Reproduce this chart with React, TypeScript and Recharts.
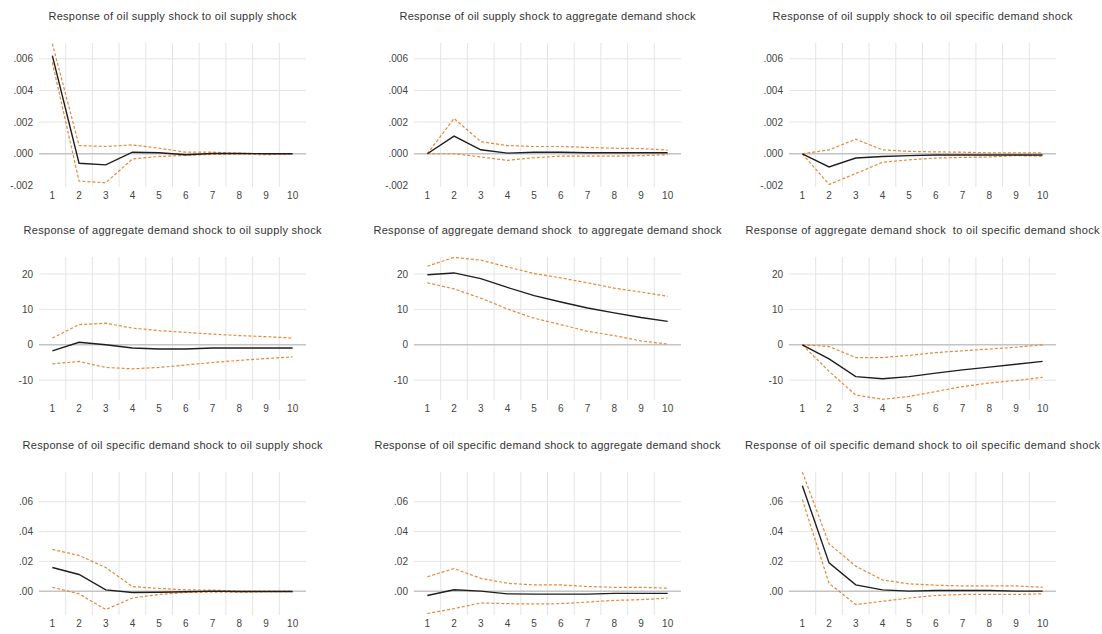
import { LineChart, Line, XAxis, YAxis, ReferenceLine } from 'recharts'

// Impulse-response grid: 3 shocks x 3 responses, horizons 1..10.
const HORIZONS = [1, 2, 3, 4, 5, 6, 7, 8, 9, 10]
const BOUNDARIES = [1.5, 2.5, 3.5, 4.5, 5.5, 6.5, 7.5, 8.5, 9.5]

const TITLES = [
  'Response of oil supply shock to oil supply shock',
  'Response of oil supply shock to aggregate demand shock',
  'Response of oil supply shock to oil specific demand shock',
  'Response of aggregate demand shock to oil supply shock',
  'Response of aggregate demand shock  to aggregate demand shock',
  'Response of aggregate demand shock  to oil specific demand shock',
  'Response of oil specific demand shock to oil supply shock',
  'Response of oil specific demand shock to aggregate demand shock',
  'Response of oil specific demand shock to oil specific demand shock',
]

// row 1: oil supply shock
const irf1 = [0.0062, -0.0006, -0.0007, 0.0001, 0.00006, -0.00006, 0.00002, 0.00002, 0.0, 0.0]
const hi1 = [0.00696, 0.00052, 0.00046, 0.00056, 0.00035, 0.0001, 0.0001, 0.00004, -0.00002, 0.0]
const lo1 = [0.00577, -0.00173, -0.00183, -0.00033, -0.00017, -0.0001, -0.00004, -0.00002, -0.00006, 0.0]

const irf2 = [0.0, 0.00112, 0.00025, 0.00004, 0.0001, 0.0001, 0.00006, 0.00006, 0.00006, 0.00006]
const hi2 = [0.0, 0.00223, 0.00077, 0.00052, 0.00046, 0.00046, 0.0004, 0.00035, 0.00033, 0.00023]
const lo2 = [0.0, 0.0, -0.0002, -0.00042, -0.00025, -0.00015, -0.00015, -0.00015, -0.00012, -0.00006]

const irf3 = [0.0, -0.00083, -0.00027, -0.00017, -0.00012, -0.00008, -0.00008, -0.00008, -0.00008, -0.00008]
const hi3 = [0.0, 0.00025, 0.00092, 0.00025, 0.00015, 0.00012, 0.0001, 0.00006, 0.00006, 0.00006]
const lo3 = [0.0, -0.00194, -0.00125, -0.00054, -0.00038, -0.00027, -0.00023, -0.0002, -0.00012, -0.00015]

// row 2: aggregate demand shock
const irf4 = [-1.7, 0.7, 0.0, -0.9, -1.2, -1.2, -0.9, -0.9, -0.9, -0.9]
const hi4 = [1.9, 5.7, 6.1, 4.7, 4.0, 3.5, 3.0, 2.6, 2.3, 1.9]
const lo4 = [-5.4, -4.7, -6.4, -6.8, -6.4, -5.7, -5.0, -4.4, -3.9, -3.4]

const irf5 = [19.8, 20.3, 18.7, 16.2, 13.9, 12.1, 10.4, 9.0, 7.7, 6.6]
const hi5 = [22.2, 24.7, 23.9, 22.0, 20.1, 18.9, 17.5, 16.0, 14.9, 13.7]
const lo5 = [17.5, 15.8, 13.2, 10.1, 7.5, 5.7, 3.8, 2.6, 1.1, 0.2]

const irf6 = [0.0, -4.0, -9.0, -9.6, -9.0, -8.0, -7.1, -6.3, -5.5, -4.7]
const hi6 = [0.0, -0.5, -3.6, -3.6, -3.0, -2.2, -1.7, -1.2, -0.7, 0.0]
const lo6 = [0.0, -7.5, -14.2, -15.4, -14.6, -13.2, -11.8, -10.8, -10.1, -9.2]

// row 3: oil specific demand shock
const irf7 = [0.0159, 0.0112, 0.0009, -0.0009, -0.0007, -0.0004, 0.0, -0.0002, -0.0002, -0.0002]
const hi7 = [0.028, 0.024, 0.0159, 0.0031, 0.0018, 0.0009, 0.0007, 0.0, 0.0, 0.0]
const lo7 = [0.0026, -0.0018, -0.0123, -0.0046, -0.0022, -0.0009, -0.0007, -0.0007, -0.0004, -0.0004]

const irf8 = [-0.0029, 0.0009, 0.0, -0.0018, -0.002, -0.002, -0.002, -0.0015, -0.0015, -0.0015]
const hi8 = [0.0097, 0.0152, 0.0086, 0.0053, 0.0042, 0.0042, 0.0031, 0.0026, 0.0026, 0.002]
const lo8 = [-0.015, -0.0117, -0.0079, -0.0084, -0.0086, -0.0084, -0.0073, -0.0062, -0.0057, -0.0046]

const irf9 = [0.0708, 0.019, 0.0042, 0.0009, 0.0, 0.0004, 0.0004, 0.0004, 0.0, 0.0]
const hi9 = [0.08, 0.0318, 0.0168, 0.0075, 0.0049, 0.004, 0.0035, 0.0035, 0.0035, 0.0026]
const lo9 = [0.0615, 0.0053, -0.009, -0.0068, -0.0046, -0.0029, -0.0022, -0.0022, -0.0022, -0.0018]

const SERIES = [
  [irf1, hi1, lo1], [irf2, hi2, lo2], [irf3, hi3, lo3],
  [irf4, hi4, lo4], [irf5, hi5, lo5], [irf6, hi6, lo6],
  [irf7, hi7, lo7], [irf8, hi8, lo8], [irf9, hi9, lo9],
]

// per-row y axis setup
const ROWS = [
  { top: 43, h: 144, domain: [-0.0021, 0.007], ticks: [-0.002, 0, 0.002, 0.004, 0.006], grid: [-0.002, 0.002, 0.004, 0.006], dec: 3, gridBottom: false },
  { top: 257, h: 143, domain: [-15.6, 24.8], ticks: [-10, 0, 10, 20], grid: [-10, 10, 20], dec: 0, gridBottom: true },
  { top: 472, h: 143, domain: [-0.016, 0.08], ticks: [0, 0.02, 0.04, 0.06], grid: [0.02, 0.04, 0.06], dec: 2, gridBottom: true },
]
const COL_LEFT = [39, 414, 789]
const PLOT_W = 267
const TITLE_Y = [17, 231, 446]
const TITLE_W = [248, 296, 300, 298, 348, 354, 300, 346, 355]

const ORANGE = '#e8873a'
const GRID = '#e4e4e4'
const FONT = '"Liberation Sans", Arial, sans-serif'

const fmt = (dec: number) => (v: number) => {
  const s = v.toFixed(dec)
  return dec === 0 ? s : s.replace(/^(-?)0\./, '$1.')
}

function Panel({ idx }: { idx: number }) {
  const row = ROWS[Math.floor(idx / 3)]
  const left = COL_LEFT[idx % 3]
  const [irf, hi, lo] = SERIES[idx]
  const rows = HORIZONS.map((h, i) => ({ h, irf: irf[i], hi: hi[i], lo: lo[i] }))
  // -.002 line on the top row sits on the plot edge and isn't drawn
  const hLines = row.gridBottom ? row.grid : row.grid.filter((g) => g > row.domain[0] + 0.0002)
  return (
    <div style={{ position: 'absolute', left: left - 45, top: row.top - 5 }}>
      <LineChart width={45 + PLOT_W + 5} height={5 + row.h + 25} data={rows} margin={{ top: 5, right: 5, left: 0, bottom: 0 }}>
        <XAxis
          dataKey="h"
          type="number"
          domain={[0.5, 10.5]}
          ticks={HORIZONS}
          axisLine={false}
          tickLine={false}
          tickSize={0}
          tickMargin={5}
          height={25}
          tick={{ fill: '#444', fontSize: 10, fontFamily: FONT }}
        />
        <YAxis
          type="number"
          domain={row.domain}
          ticks={row.ticks}
          allowDataOverflow
          axisLine={false}
          tickLine={false}
          tickSize={0}
          tickMargin={6}
          width={45}
          tickFormatter={fmt(row.dec)}
          tick={{ fill: '#444', fontSize: 10, fontFamily: FONT }}
        />
        {BOUNDARIES.map((b) => (
          <ReferenceLine key={'v' + b} x={b} stroke={GRID} strokeWidth={1} />
        ))}
        {hLines.map((g) => (
          <ReferenceLine key={'h' + g} y={g} stroke={GRID} strokeWidth={1} />
        ))}
        <ReferenceLine y={0} stroke="#c4c4c4" strokeWidth={1.5} />
        <Line type="linear" dataKey="hi" stroke={ORANGE} strokeWidth={1.2} strokeDasharray="3 2" dot={false} isAnimationActive={false} />
        <Line type="linear" dataKey="lo" stroke={ORANGE} strokeWidth={1.2} strokeDasharray="3 2" dot={false} isAnimationActive={false} />
        <Line type="linear" dataKey="irf" stroke="#1e1e1e" strokeWidth={1.4} dot={false} isAnimationActive={false} />
      </LineChart>
    </div>
  )
}

export default function App() {
  return (
    <div style={{ position: 'absolute', left: 0, top: 0, width: 1102, height: 634, background: '#fff', overflow: 'hidden' }}>
      {TITLES.map((_, i) => (
        <Panel key={i} idx={i} />
      ))}
      <svg width={1102} height={634} style={{ position: 'absolute', left: 0, top: 0, pointerEvents: 'none' }}>
        {TITLES.map((t, i) => (
          <text
            key={i}
            x={COL_LEFT[i % 3] + PLOT_W / 2}
            y={TITLE_Y[Math.floor(i / 3)]}
            dominantBaseline="middle"
            textAnchor="middle"
            textLength={TITLE_W[i]}
            lengthAdjust="spacing"
            fontSize={11}
            fontFamily={FONT}
            fill="#333"
            style={{ whiteSpace: 'pre' }}
          >
            {t}
          </text>
        ))}
      </svg>
    </div>
  )
}
